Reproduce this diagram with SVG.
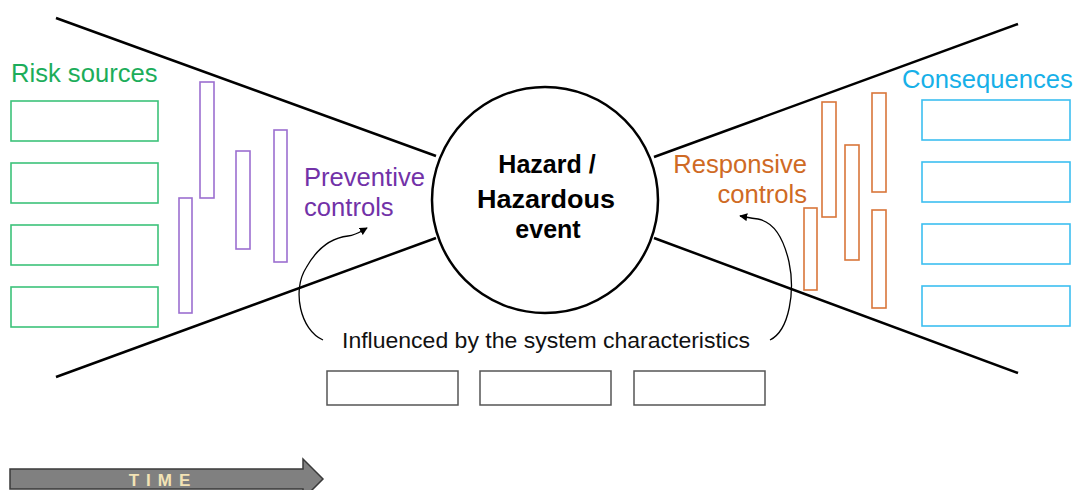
<svg xmlns="http://www.w3.org/2000/svg" width="1074" height="490" viewBox="0 0 1074 490">
  <style>
    .lbl { font-family: "Liberation Sans", Arial, sans-serif; }
    .big { font-size: 25.6px; }
    .src { fill: none; stroke: #3cc27a; stroke-width: 1.6; }
    .prev { fill: none; stroke: #9c6fd0; stroke-width: 1.6; }
    .resp { fill: none; stroke: #d9763a; stroke-width: 1.6; }
    .cons { fill: none; stroke: #3cbff0; stroke-width: 1.6; }
    .sys { fill: #fff; stroke: #555; stroke-width: 1.5; }
    .edge { fill: none; stroke: #000; stroke-width: 2.5; }
    .curve { fill: none; stroke: #000; stroke-width: 1.3; }
  </style>
  <defs>
    <marker id="tip" viewBox="0 0 10 10" refX="9" refY="5" markerWidth="8" markerHeight="8" markerUnits="userSpaceOnUse" orient="auto">
      <path d="M0,0 L10,5 L0,10 z" fill="#000"/>
    </marker>
  </defs>
  <rect width="1074" height="490" fill="#fff"/>

  <!-- bow-tie outline and influence arrows -->
  <g id="connectors">
    <line class="edge" x1="56" y1="18" x2="436" y2="156"/>
    <line class="edge" x1="56" y1="377" x2="436" y2="238"/>
    <line class="edge" x1="654" y1="157" x2="1018" y2="24"/>
    <line class="edge" x1="654" y1="238" x2="1018" y2="373"/>
    <path class="curve" d="M323,340 C300,330 292,290 306,268 C316,250 330,238 348,236 C356,235 360,232 367,228" marker-end="url(#tip)"/>
    <path class="curve" d="M770,340 C790,330 795,290 789,262 C784,240 774,222 758,219 C750,218 746,217 740,216" marker-end="url(#tip)"/>
  </g>

  <!-- central event -->
  <g id="hazard">
    <circle cx="545" cy="200" r="113" fill="#fff" stroke="#000" stroke-width="2.5"/>
    <g class="lbl" font-weight="bold" font-size="25" text-anchor="middle" fill="#000">
      <text x="547" y="173">Hazard /</text>
      <text x="546" y="208" textLength="138" lengthAdjust="spacingAndGlyphs">Hazardous</text>
      <text x="548" y="238">event</text>
    </g>
  </g>

  <!-- left side -->
  <g id="risk-sources">
    <text class="lbl big" x="11" y="82" fill="#1cad5a">Risk sources</text>
    <rect class="src" x="11" y="101" width="147" height="40"/>
    <rect class="src" x="11" y="163" width="147" height="40"/>
    <rect class="src" x="11" y="225" width="147" height="40"/>
    <rect class="src" x="11" y="287" width="147" height="40"/>
  </g>

  <g id="preventive-controls">
    <rect class="prev" x="200" y="82" width="14" height="116"/>
    <rect class="prev" x="179" y="198" width="13" height="115"/>
    <rect class="prev" x="236" y="151" width="14" height="98"/>
    <rect class="prev" x="274" y="130" width="13" height="132"/>
    <text class="lbl big" x="304" y="186" fill="#7232a8">Preventive</text>
    <text class="lbl big" x="304" y="216" fill="#7232a8">controls</text>
  </g>

  <!-- right side -->
  <g id="responsive-controls">
    <text class="lbl big" x="807" y="173" fill="#cf6a24" text-anchor="end">Responsive</text>
    <text class="lbl big" x="807" y="203" fill="#cf6a24" text-anchor="end">controls</text>
    <rect class="resp" x="822" y="102" width="14" height="115"/>
    <rect class="resp" x="804" y="208" width="13" height="82"/>
    <rect class="resp" x="845" y="145" width="14" height="115"/>
    <rect class="resp" x="872" y="93" width="14" height="99"/>
    <rect class="resp" x="872" y="210" width="14" height="98"/>
  </g>

  <g id="consequences">
    <text class="lbl big" x="902" y="88" fill="#17b0e8">Consequences</text>
    <rect class="cons" x="922" y="100" width="148" height="40"/>
    <rect class="cons" x="922" y="162" width="148" height="40"/>
    <rect class="cons" x="922" y="224" width="148" height="40"/>
    <rect class="cons" x="922" y="286" width="148" height="40"/>
  </g>

  <!-- system characteristics -->
  <g id="system-characteristics">
    <text class="lbl" x="342" y="348" font-size="22" fill="#111" textLength="408" lengthAdjust="spacingAndGlyphs">Influenced by the system characteristics</text>
    <rect class="sys" x="327" y="371" width="131" height="34"/>
    <rect class="sys" x="480" y="371" width="131" height="34"/>
    <rect class="sys" x="634" y="371" width="131" height="34"/>
  </g>

  <!-- time axis -->
  <g id="time">
    <path d="M10,469 L303,469 L303,459 L323,479 L303,499 L303,489 L10,489 Z" fill="#808080" stroke="#3a3a3a" stroke-width="1.5"/>
    <text class="lbl" x="163" y="486" font-size="17" font-weight="bold" fill="#f3e3b5" text-anchor="middle" letter-spacing="7">TIME</text>
  </g>
</svg>
